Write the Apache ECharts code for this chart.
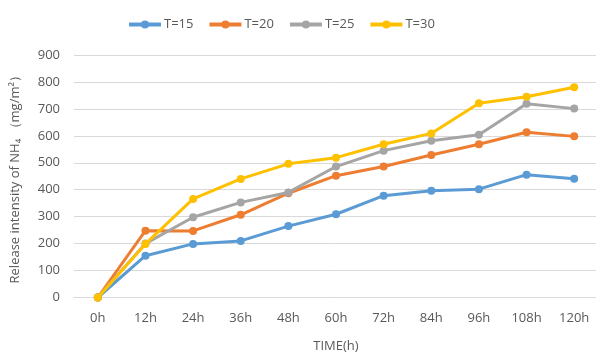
<!DOCTYPE html>
<html>
<head>
<meta charset="utf-8">
<script src="https://cdn.jsdelivr.net/npm/echarts@6/dist/echarts.min.js"></script>
<style>
  html, body { margin: 0; padding: 0; background: #fff; }
  #chart { width: 596px; height: 352px; }
</style>
</head>
<body>
<div id="chart"></div>
<script>
// Sampling times
const categories = ['0h', '12h', '24h', '36h', '48h', '60h', '72h', '84h', '96h', '108h', '120h'];

// NH4 release intensity (mg/m²) at each temperature
const seriesNames = ['T=15', 'T=20', 'T=25', 'T=30'];
const t15 = [0, 155, 199, 210, 265, 309, 378, 396, 402, 456, 441];
const t20 = [0, 248, 247, 307, 387, 452, 486, 529, 569, 613, 598];
const t25 = [0, 200, 298, 353, 390, 486, 545, 582, 604, 719, 701];
const t30 = [0, 199, 366, 440, 496, 519, 569, 609, 721, 745, 780];

const colors = ['#5B9BD5', '#ED7D31', '#A5A5A5', '#FFC000'];
const values = [t15, t20, t25, t30];

const textColor = '#595959';
const fontFamily = 'Open Sans, Liberation Sans, sans-serif';

const chart = echarts.init(document.getElementById('chart'), null, { renderer: 'canvas' });

chart.setOption({
  animation: false,
  backgroundColor: '#ffffff',
  color: colors,
  textStyle: { fontFamily: fontFamily, color: textColor },
  legend: {
    left: 122,
    top: 13,
    itemWidth: 32,
    itemHeight: 10,
    itemGap: 14,
    lineStyle: { width: 4 },
    textStyle: { fontSize: 13, color: textColor, fontFamily: fontFamily, padding: [0, 0, 0, -2] },
    data: seriesNames
  },
  grid: { left: 74, top: 55, width: 524, bottom: 54.5, outerBoundsMode: 'none', containLabel: false },
  xAxis: {
    type: 'category',
    data: categories,
    boundaryGap: true,
    name: 'TIME(h)',
    nameLocation: 'middle',
    nameGap: 42,
    nameTextStyle: { fontSize: 13, color: textColor, fontFamily: fontFamily },
    axisLine: { show: true, lineStyle: { color: '#D9D9D9', width: 1 } },
    axisTick: { show: false },
    axisLabel: { fontSize: 13, color: textColor, margin: 14, fontFamily: fontFamily }
  },
  yAxis: {
    type: 'value',
    min: 0,
    max: 900,
    interval: 100,
    name: 'Release intensity of NH₄ （mg/m²）',
    nameLocation: 'middle',
    nameGap: 52,
    nameTextStyle: { fontSize: 13, color: textColor, fontFamily: fontFamily },
    axisLine: { show: false },
    axisTick: { show: false },
    axisLabel: { fontSize: 13, color: textColor, margin: 14, fontFamily: fontFamily },
    splitLine: { lineStyle: { color: '#D9D9D9', width: 1 } }
  },
  series: seriesNames.map((name, i) => ({
    name: name,
    type: 'line',
    data: values[i],
    symbol: 'circle',
    symbolSize: 8,
    lineStyle: { width: 3, color: colors[i] },
    itemStyle: { color: colors[i] },
    z: 2 + i
  }))
});
</script>
</body>
</html>
